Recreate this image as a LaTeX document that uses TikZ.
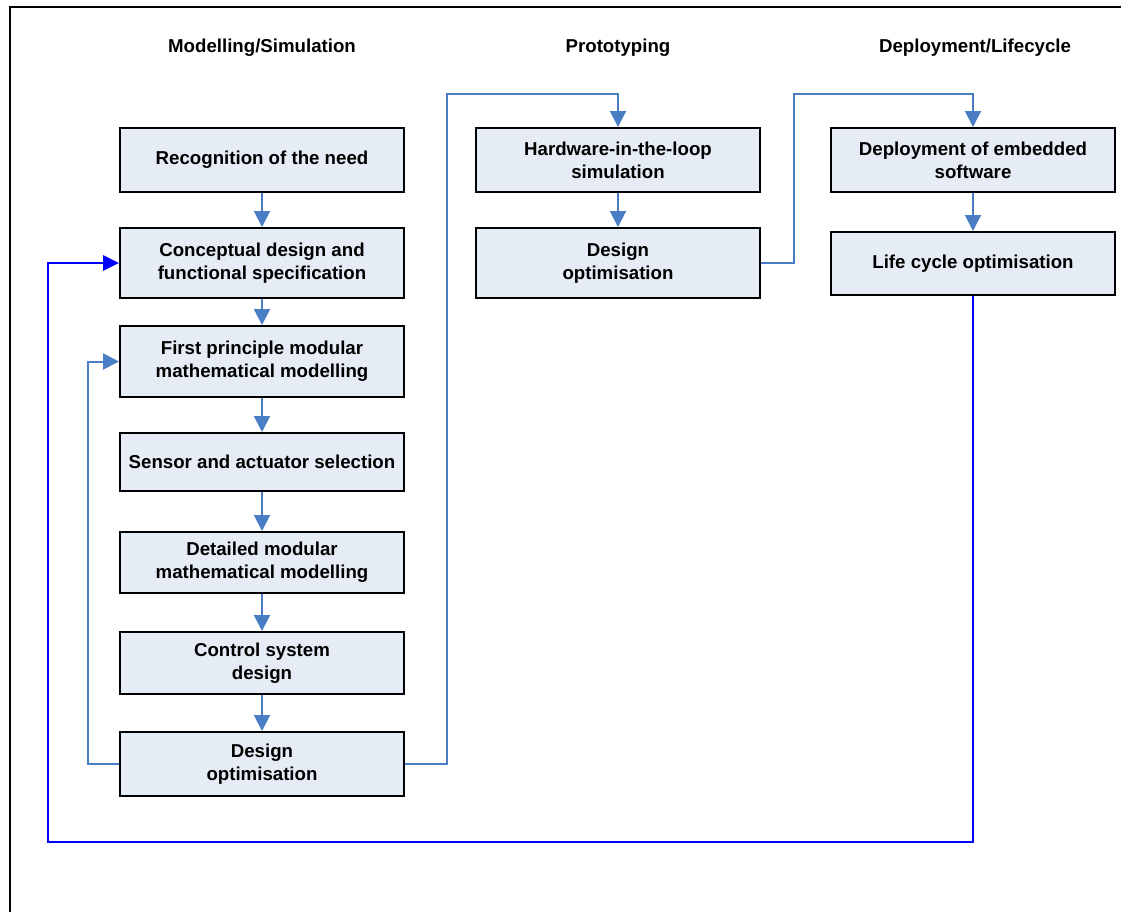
\documentclass[tikz,border=0pt]{standalone}
\usepackage{fontspec}
\setmainfont{Liberation Sans}
\usetikzlibrary{arrows.meta}
\definecolor{boxfill}{HTML}{E6ECF6}
\definecolor{flowline}{HTML}{4A7EC4}
\definecolor{loopline}{HTML}{0000FF}
\begin{document}
\begin{tikzpicture}[x=0.75pt,y=-0.75pt,
  stagebox/.style={draw=black,line width=1.5pt,fill=boxfill,minimum width=213pt,
    inner sep=0pt,align=center,font=\fontsize{14}{17.5}\selectfont\bfseries},
  header/.style={font=\fontsize{14}{17.5}\selectfont\bfseries},
  flow/.style={draw=flowline,line width=1.5pt,-{Triangle[width=12pt,length=12pt]}},
  loop/.style={draw=loopline,line width=1.5pt,-{Triangle[width=11.5pt,length=12pt]}}]
\useasboundingbox (0,0) rectangle (1121,911);
% frame
\draw[line width=1.5pt] (10,920) -- (10,7) -- (1130,7);
% column headers
\node[header] (h1) at (262,48) {Modelling/Simulation};
\node[header] (h2) at (618,48) {Prototyping};
\node[header] (h3) at (975,48) {Deployment/Lifecycle};
% modelling / simulation column
\node[stagebox,minimum height=48pt] (R) at (262,160) {Recognition of the need};
\node[stagebox,minimum height=52.5pt] (C) at (262,263) {Conceptual design and\\functional specification};
\node[stagebox,minimum height=53.25pt] (F) at (262,361.5) {First principle modular\\mathematical modelling};
\node[stagebox,minimum height=43.5pt] (S) at (262,462) {Sensor and actuator selection};
\node[stagebox,minimum height=45.75pt] (D) at (262,562.5) {Detailed modular\\mathematical modelling};
\node[stagebox,minimum height=46.5pt] (K) at (262,663) {Control system\\design};
\node[stagebox,minimum height=48pt] (O) at (262,764) {Design\\optimisation};
% prototyping column
\node[stagebox,minimum height=48pt] (H) at (618,160) {Hardware-in-the-loop\\simulation};
\node[stagebox,minimum height=52.5pt] (P) at (618,263) {Design\\optimisation};
% deployment / lifecycle column
\node[stagebox,minimum height=48pt] (E) at (973,160) {Deployment of embedded\\software};
\node[stagebox,minimum height=47.25pt] (L) at (973,263.5) {Life cycle optimisation};
% turning points
\coordinate (t1) at (447,94);
\coordinate (t2) at (794,94);
\coordinate (t3) at (88,764);
\coordinate (t4) at (48,842);
% forward flow
\draw[flow] (R) -- (C);
\draw[flow] (C) -- (F);
\draw[flow] (F) -- (S);
\draw[flow] (S) -- (D);
\draw[flow] (D) -- (K);
\draw[flow] (K) -- (O);
\draw[flow] (O.east) -| (t1) -| (H.north);
\draw[flow] (H) -- (P);
\draw[flow] (P.east) -| (t2) -| (E.north);
\draw[flow] (E) -- (L);
% iteration loops
\draw[flow] (O.west) -- (t3) |- (F.west);
\draw[loop] (L.south) |- (t4) |- (C.west);
\end{tikzpicture}
\end{document}
